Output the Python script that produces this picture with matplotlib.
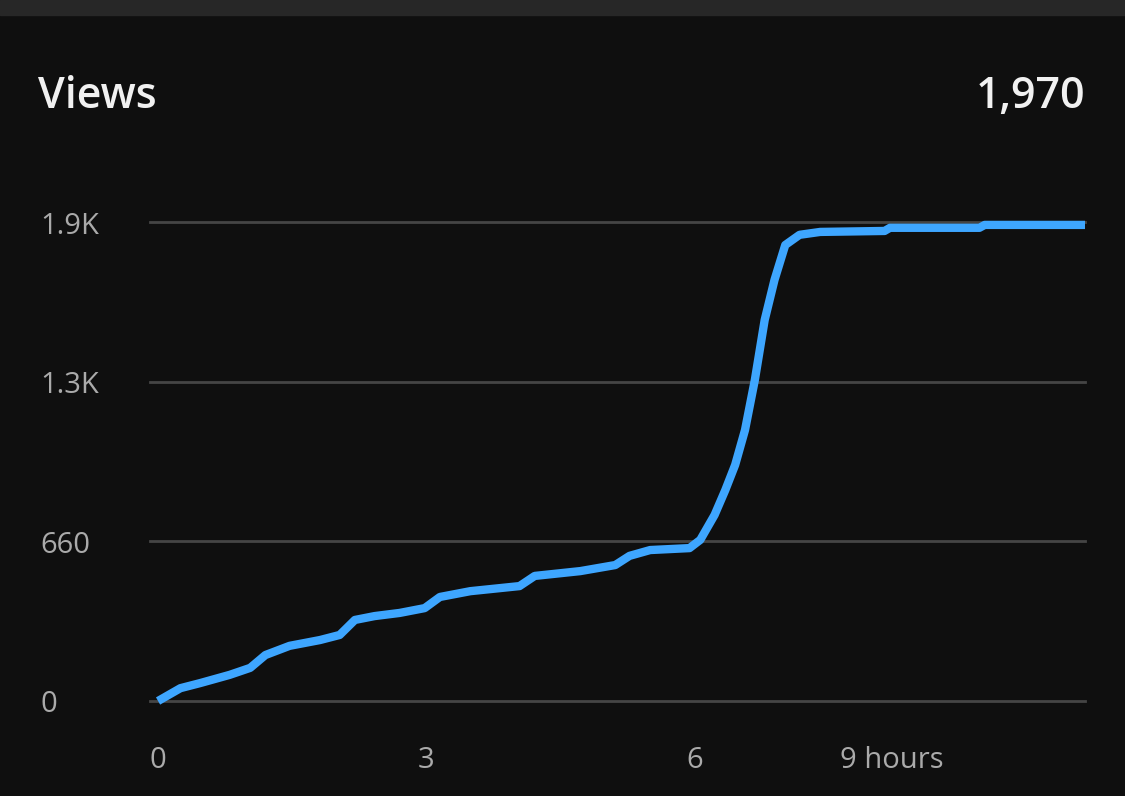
import matplotlib.pyplot as plt
from matplotlib.transforms import blended_transform_factory, offset_copy

# hours since publish vs cumulative views
hours = [0.0, 0.08, 0.25, 0.47, 0.80, 1.03, 1.20, 1.47, 1.81, 2.03, 2.20, 2.42, 2.70,
         2.98, 3.15, 3.49, 4.04, 4.21, 4.72, 5.11, 5.27, 5.50, 5.94, 6.06, 6.22, 6.34,
         6.45, 6.56, 6.67, 6.78, 6.89, 7.01, 7.17, 7.40, 8.12, 8.18, 9.18, 9.24, 10.36]
views = [0, 17, 53, 74, 108, 137, 190, 228, 252, 273, 335, 351, 364, 384, 430, 454,
         475, 517, 537, 562, 600, 624, 632, 666, 769, 872, 976, 1120, 1327, 1575, 1741,
         1885, 1927, 1939, 1943, 1956, 1956, 1968, 1968]
y_ticks = [0, 660, 1320, 1980]
y_labels = ["0", "660", "1.3K", "1.9K"]
x_ticks = [0, 3, 6, 8.2]
x_labels = ["0", "3", "6", "9 hours"]
total = "1,970"

bg = "#0f0f0f"
fig = plt.figure(figsize=(11.25, 7.96), dpi=100, facecolor=bg)
fig.patches.append(plt.Rectangle((0, 1 - 15 / 796), 1, 15 / 796, transform=fig.transFigure,
                                 color="#272727", zorder=0))

ax = fig.add_axes([150 / 1125, 95 / 796, 935 / 1125, 479 / 796])
ax.set_facecolor(bg)
ax.set_xlim(-0.09, 10.36)
ax.set_ylim(0, 1980)
for s in ax.spines.values():
    s.set_visible(False)
ax.tick_params(length=0, labelleft=False, labelbottom=False)

for v in y_ticks:
    ax.axhline(v, color="#454545", lw=2, zorder=1, clip_on=False)

ax.plot(hours, views, color="#3ea6ff", lw=6, solid_capstyle="butt",
        solid_joinstyle="round", zorder=3, clip_on=False)

tr = offset_copy(blended_transform_factory(fig.transFigure, ax.transData),
                 fig=fig, y=-4, units="dots")
for v, lab in zip(y_ticks, y_labels):
    ax.text(40 / 1125, v, lab, transform=tr, color="#aaaaaa", fontsize=21,
            va="center", ha="left", family="Open Sans")

trx = blended_transform_factory(ax.transData, fig.transFigure)
for h, lab in zip(x_ticks, x_labels):
    ax.text(h, 1 - 760 / 796, lab, transform=trx, color="#aaaaaa", fontsize=21,
            va="center", ha="center", family="Open Sans")

fig.text(38 / 1125, 1 - 97 / 796, "Views", color="#f1f1f1", fontsize=31,
         fontweight="semibold", va="center", ha="left", family="Open Sans")
fig.text(1085 / 1125, 1 - 97 / 796, total, color="#f1f1f1", fontsize=31,
         fontweight="semibold", va="center", ha="right", family="Open Sans")

fig.savefig("out.png", dpi=100, facecolor=bg)
